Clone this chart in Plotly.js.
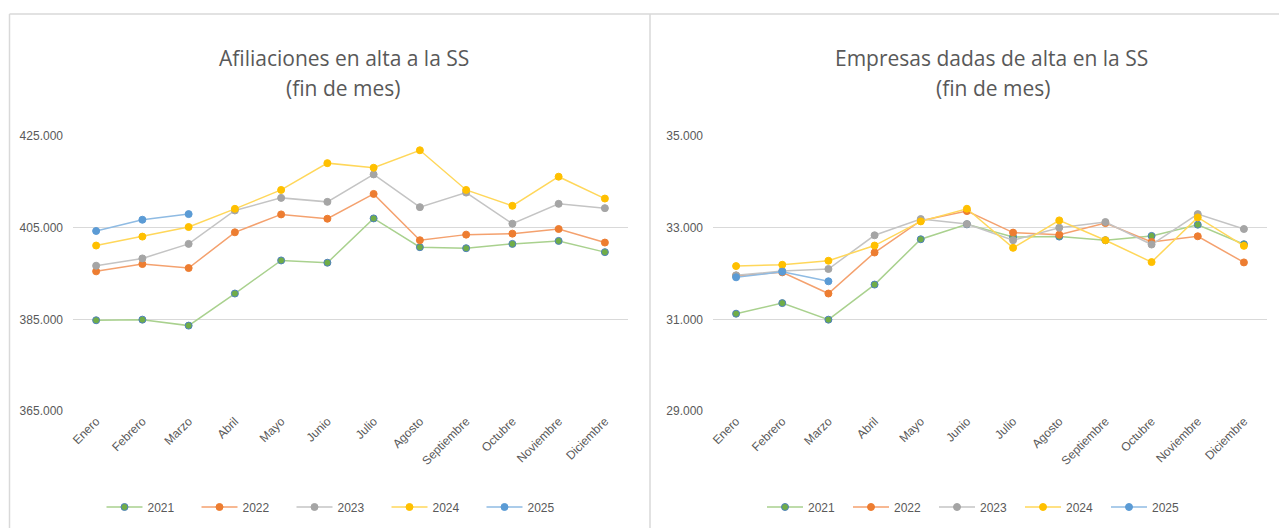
<!DOCTYPE html>
<html>
<head>
<meta charset="utf-8">
<script src="https://cdn.plot.ly/plotly-3.0.1.min.js"></script>
<style>html,body{margin:0;padding:0;background:#fff;overflow:hidden;width:1279px;height:528px;}#chart{width:1279px;height:528px;display:block;}</style>
</head>
<body>
<div id="chart"></div>
<script>
const months = ["Enero","Febrero","Marzo","Abril","Mayo","Junio","Julio","Agosto","Septiembre","Octubre","Noviembre","Diciembre"];
const years = ["2021","2022","2023","2024","2025"];

// Afiliaciones en alta a la SS (fin de mes)
const afil2021 = [384800, 384930, 383630, 390630, 397850, 397350, 407020, 400740, 400520, 401460, 402110, 399660];
const afil2022 = [395470, 397060, 396190, 403990, 407890, 406950, 412360, 402260, 403480, 403700, 404710, 401750];
const afil2023 = [396700, 398290, 401460, 408750, 411500, 410630, 416620, 409480, 412650, 405870, 410200, 409260];
const afil2024 = [401100, 403050, 405140, 409110, 413230, 419080, 418070, 421890, 413230, 409770, 416120, 411350];
const afil2025 = [404280, 406730, 407960];

// Empresas dadas de alta en la SS (fin de mes)
const emp2021 = [31123, 31354, 30993, 31758, 32747, 33072, 32798, 32805, 32726, 32820, 33065, 32639];
const emp2022 = [31953, 32025, 31563, 32458, 33152, 33361, 32892, 32848, 33100, 32690, 32812, 32242];
const emp2023 = [31960, 32054, 32098, 32834, 33188, 33080, 32726, 33000, 33123, 32632, 33296, 32971];
const emp2024 = [32162, 32191, 32278, 32610, 33137, 33412, 32560, 33159, 32726, 32249, 33224, 32603];
const emp2025 = [31917, 32040, 31830];

const lineColors = ["#a9d18e", "#f4a16e", "#c4c4c4", "#ffd75a", "#8fbbe3"];
const markerColors = ["#70ad47", "#ed7d31", "#a5a5a5", "#ffc000", "#5b9bd5"];
const markerLines = ["#4f81bd", "#ed7d31", "#a5a5a5", "#ffc000", "#5b9bd5"];

const W = 1279, H = 528;
const px = x => x / W;
const py = y => 1 - y / H;

const afil = [afil2021, afil2022, afil2023, afil2024, afil2025];
const emp = [emp2021, emp2022, emp2023, emp2024, emp2025];

const traces = [];
afil.forEach((vals, i) => {
  traces.push({
    x: months.slice(0, vals.length), y: vals, name: years[i],
    type: "scatter", mode: "lines+markers", xaxis: "x", yaxis: "y", legend: "legend",
    line: {color: lineColors[i], width: 1.5},
    marker: {color: markerColors[i], size: 7, line: {color: markerLines[i], width: 1}}
  });
});
emp.forEach((vals, i) => {
  traces.push({
    x: months.slice(0, vals.length), y: vals, name: years[i],
    type: "scatter", mode: "lines+markers", xaxis: "x2", yaxis: "y2", legend: "legend2",
    line: {color: lineColors[i], width: 1.5},
    marker: {color: markerColors[i], size: 7, line: {color: markerLines[i], width: 1}}
  });
});

const tickFont = {family: "Liberation Sans, Arial, sans-serif", size: 12, color: "#595959"};
const xCommon = {
  type: "category", categoryorder: "array", categoryarray: months,
  range: [-0.5, 11.5], tickangle: -45, tickfont: tickFont,
  showgrid: false, zeroline: false, showline: false, ticks: "", fixedrange: true
};
const yCommon = {
  showgrid: true, gridcolor: "#d9d9d9", gridwidth: 1.5, zeroline: false, showline: false,
  ticks: "", tickfont: tickFont, tickformat: ",d", fixedrange: true, ticklabelstandoff: 9
};

const titleFont = {family: "Open Sans, sans-serif", size: 21, color: "#595959"};
const legendFont = {family: "Liberation Sans, Arial, sans-serif", size: 12, color: "#595959"};

const layout = {
  width: W, height: H, autosize: false,
  margin: {l: 0, r: 0, t: 0, b: 0},
  paper_bgcolor: "#ffffff", plot_bgcolor: "#ffffff",
  separators: ",.",
  showlegend: true,
  xaxis: Object.assign({}, xCommon, {domain: [px(73), px(628)], anchor: "y"}),
  yaxis: Object.assign({}, yCommon, {domain: [py(411), py(136)], range: [365000, 425000], dtick: 20000, tick0: 365000, anchor: "x"}),
  xaxis2: Object.assign({}, xCommon, {domain: [px(713), px(1267)], anchor: "y2"}),
  yaxis2: Object.assign({}, yCommon, {domain: [py(411), py(136)], range: [29000, 35000], dtick: 2000, tick0: 29000, anchor: "x2"}),
  legend: {
    orientation: "h", x: px(339), xanchor: "center", y: py(507), yanchor: "middle",
    font: legendFont, entrywidth: 44, entrywidthmode: "pixels", itemwidth: 36, bgcolor: "rgba(0,0,0,0)"
  },
  legend2: {
    orientation: "h", x: px(977), xanchor: "center", y: py(507), yanchor: "middle",
    font: legendFont, entrywidth: 35, entrywidthmode: "pixels", itemwidth: 36, bgcolor: "rgba(0,0,0,0)"
  },
  annotations: [
    {text: "Afiliaciones en alta a la SS", x: px(344), y: py(58), xref: "paper", yref: "paper", showarrow: false, xanchor: "center", yanchor: "middle", font: titleFont},
    {text: "(fin de mes)", x: px(343), y: py(88), xref: "paper", yref: "paper", showarrow: false, xanchor: "center", yanchor: "middle", font: titleFont},
    {text: "Empresas dadas de alta en la SS", x: px(991), y: py(58), xref: "paper", yref: "paper", showarrow: false, xanchor: "center", yanchor: "middle", font: titleFont},
    {text: "(fin de mes)", x: px(993), y: py(88), xref: "paper", yref: "paper", showarrow: false, xanchor: "center", yanchor: "middle", font: titleFont}
  ],
  shapes: [
    {type: "line", xref: "paper", yref: "paper", x0: px(9.5), x1: px(1279), y0: py(14), y1: py(14), line: {color: "#d9d9d9", width: 1.5}},
    {type: "line", xref: "paper", yref: "paper", x0: px(9.5), x1: px(9.5), y0: py(14), y1: py(528), line: {color: "#d9d9d9", width: 1.5}},
    {type: "line", xref: "paper", yref: "paper", x0: px(650), x1: px(650), y0: py(14), y1: py(528), line: {color: "#d9d9d9", width: 1.5}}
  ]
};

Plotly.newPlot("chart", traces, layout, {displayModeBar: false, staticPlot: true});
</script>
</body>
</html>
